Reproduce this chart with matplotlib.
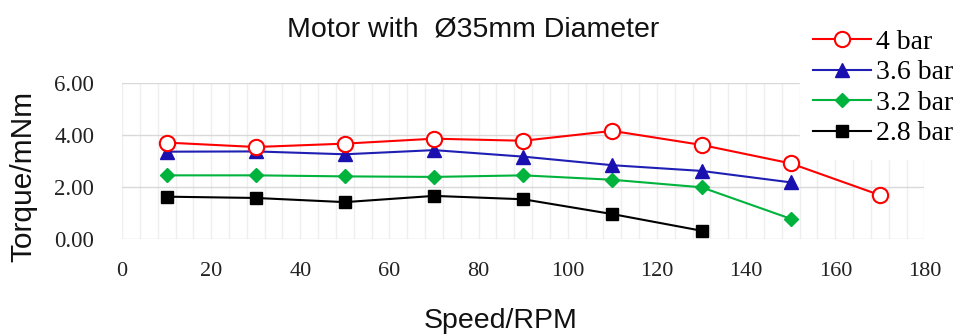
import matplotlib
matplotlib.use("Agg")
import matplotlib.pyplot as plt
from matplotlib.ticker import MultipleLocator, FormatStrFormatter

# Torque vs speed for a 35 mm motor at four supply pressures
speed = [10, 30, 50, 70, 90, 110, 130, 150, 170]
torque_4bar = [3.72, 3.55, 3.68, 3.87, 3.79, 4.17, 3.63, 2.92, 1.70]
torque_3p6bar = [3.37, 3.38, 3.27, 3.43, 3.18, 2.85, 2.63, 2.19]
torque_3p2bar = [2.46, 2.46, 2.42, 2.40, 2.46, 2.29, 2.00, 0.79]
torque_2p8bar = [1.64, 1.59, 1.43, 1.67, 1.54, 0.97, 0.33]
labels = ["4 bar", "3.6 bar", "3.2 bar", "2.8 bar"]

sans = "Liberation Sans"
serif = "Liberation Serif"

fig = plt.figure(figsize=(9.66, 3.34), dpi=100)
ax = fig.add_axes([0.1263, 0.2835, 0.957 - 0.1263, 0.7506 - 0.2835])

ax.plot(speed[:len(torque_4bar)], torque_4bar, color="#ff0000", lw=1.5,
        marker="o", ms=11, mfc="white", mec="#ff0000", mew=1.5, label=labels[0], zorder=5)
ax.plot(speed[:len(torque_3p6bar)], torque_3p6bar, color="#1f1fb4", lw=1.5,
        marker="^", ms=10, mfc="#1a10b0", mec="#1a10b0", label=labels[1], zorder=4)
ax.plot(speed[:len(torque_3p2bar)], torque_3p2bar, color="#00b33c", lw=1.5,
        marker="D", ms=7, mfc="#00b33c", mec="#00b33c", label=labels[2], zorder=3)
ax.plot(speed[:len(torque_2p8bar)], torque_2p8bar, color="#000000", lw=1.5,
        marker="s", ms=8.5, mfc="black", mec="black", label=labels[3], zorder=3)

ax.set_xlim(0, 180)
ax.set_ylim(0, 6)
ax.xaxis.set_major_locator(MultipleLocator(20))
ax.xaxis.set_minor_locator(MultipleLocator(4))
ax.yaxis.set_major_locator(MultipleLocator(2))
ax.yaxis.set_major_formatter(FormatStrFormatter("%.2f"))

ax.grid(axis="y", which="major", color="#d9d9d9", lw=1.0, zorder=0)
ax.grid(axis="x", which="both", color="#efefef", lw=1.0, zorder=0)
ax.set_axisbelow(True)
for s in ax.spines.values():
    s.set_visible(False)
ax.tick_params(axis="both", which="both", length=0)
ax.tick_params(axis="x", pad=16)
ax.tick_params(axis="y", pad=20)
for t in ax.get_xticklabels():
    t.set_fontfamily(serif)
    t.set_fontsize(16)
    t.set_color("#222222")
for t in ax.get_yticklabels():
    t.set_fontfamily(serif)
    t.set_fontsize(16.5)
    t.set_color("#222222")

fig.text(0.49, 0.913, "Motor with  Ø35mm Diameter", fontfamily=sans, fontsize=20.5,
         ha="center", va="center", color="#111111")
fig.text(0.518, 0.04, "Speed/RPM", fontfamily=sans, fontsize=20.5,
         ha="center", va="center", color="#111111")
fig.text(0.024, 0.471, "Torque/mNm", fontfamily=sans, fontsize=21.5, rotation=90,
         ha="center", va="center", color="#111111")

leg = ax.legend(loc="upper left", bbox_to_anchor=(800 / 966, 1 - 17 / 334),
                bbox_transform=fig.transFigure, prop={"family": serif, "size": 20},
                frameon=True, fancybox=False, framealpha=1, edgecolor="white",
                facecolor="white", borderpad=0.45, borderaxespad=0,
                handlelength=2.12, handletextpad=0.18, labelspacing=0.18)
leg.set_zorder(10)

fig.savefig("out.png", dpi=100)
